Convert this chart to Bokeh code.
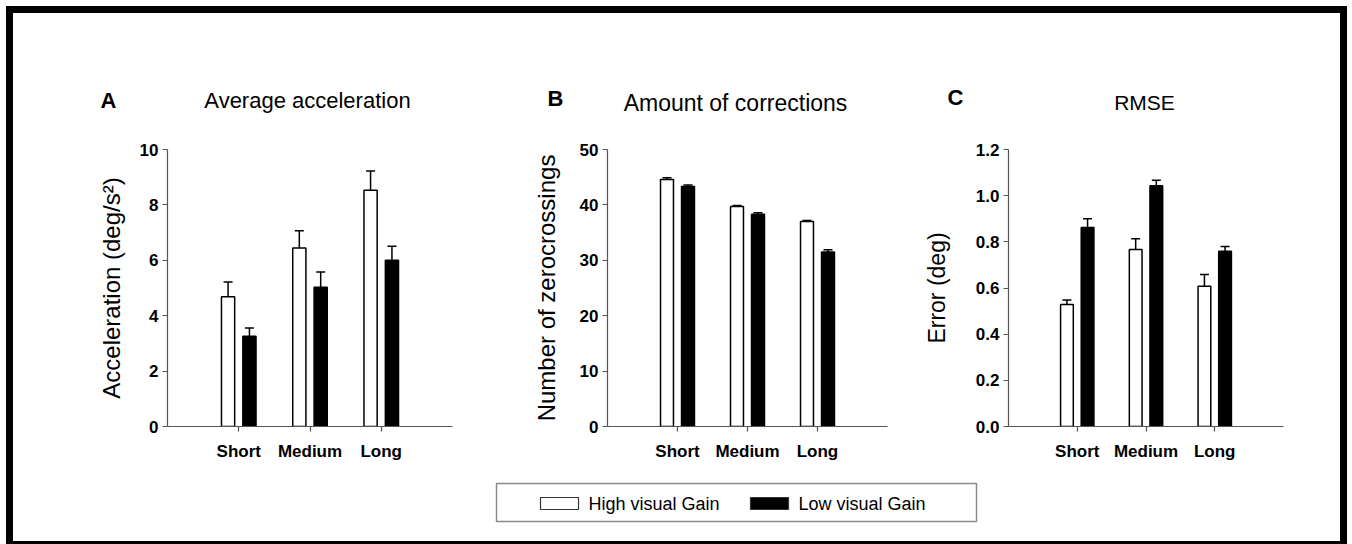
import numpy as np
from bokeh.plotting import figure
from bokeh.layouts import column, row
from bokeh.models import (Range1d, FixedTicker, Whisker, ColumnDataSource, TeeHead,
                          PrintfTickFormatter, Spacer)
from bokeh.embed import file_html
from bokeh.resources import INLINE
from bokeh.core.properties import value

# ---------------- data ----------------
categories = ["Short", "Medium", "Long"]
series_names = ["High visual Gain", "Low visual Gain"]
panel_letters = ["A", "B", "C"]
panel_titles = ["Average acceleration", "Amount of corrections", "RMSE"]
y_labels = ["Acceleration (deg/s²)", "Number of zerocrossings", "Error (deg)"]

acc_high = [4.68, 6.44, 8.53]
acc_high_err = [0.54, 0.63, 0.69]
acc_low = [3.26, 5.03, 6.00]
acc_low_err = [0.30, 0.55, 0.51]

zc_high = [44.6, 39.7, 37.0]
zc_high_err = [0.3, 0.2, 0.2]
zc_low = [43.3, 38.3, 31.5]
zc_low_err = [0.3, 0.3, 0.4]

rmse_high = [0.529, 0.767, 0.608]
rmse_high_err = [0.019, 0.046, 0.050]
rmse_low = [0.862, 1.043, 0.759]
rmse_low_err = [0.038, 0.024, 0.021]

acc_ticks = [0, 2, 4, 6, 8, 10]
zc_ticks = [0, 10, 20, 30, 40, 50]
rmse_ticks = [0.0, 0.2, 0.4, 0.6, 0.8, 1.0, 1.2]

# ---------------- style ----------------
FONT = "Liberation Sans"
AXIS_COL = "#555555"
INNER_W = 1327
HEAD_H = 120
ROW_H = 337
LEG_H = 71
BAR_W = 0.185
OFF = 0.15
FILLS = ["white", "black"]


def bare(width, height):
    f = figure(width=width, height=height, x_range=Range1d(0, width),
               y_range=Range1d(0, height), output_backend="svg", toolbar_location=None,
               min_border=0, x_axis_location=None, y_axis_location=None)
    f.grid.visible = False
    f.outline_line_color = None
    return f


def panel(ylabel, high, high_err, low, low_err, ticks, fmt,
          width, left, right, top, bottom, ylab_standoff, ylab_size):
    n = len(categories)
    p = figure(width=width, height=ROW_H, x_range=Range1d(0, n + 1),
               y_range=Range1d(ticks[0], ticks[-1]), output_backend="svg",
               toolbar_location=None, min_border_left=left, min_border_right=right,
               min_border_top=top, min_border_bottom=bottom)
    p.grid.visible = False
    p.outline_line_color = None

    x = np.arange(1, n + 1)
    for vals, errs, fill, off in ((high, high_err, FILLS[0], -OFF), (low, low_err, FILLS[1], OFF)):
        src = ColumnDataSource(dict(x=x + off, top=vals, lower=vals,
                                    upper=np.add(vals, errs)))
        p.add_layout(Whisker(source=src, base="x", lower="lower", upper="upper",
                             dimension="height", line_color="black", line_width=1.5,
                             upper_head=TeeHead(size=9, line_color="black", line_width=1.5),
                             lower_head=None))
        p.vbar(x="x", top="top", bottom=0, width=BAR_W, source=src,
               fill_color=fill, line_color="black", line_width=1.5)

    for ax in (p.xaxis[0], p.yaxis[0]):
        ax.axis_line_color = AXIS_COL
        ax.axis_line_width = 1.2
        ax.major_tick_line_color = AXIS_COL
        ax.major_tick_line_width = 1.2
        ax.minor_tick_line_color = None
        ax.major_tick_in = 0
        ax.major_tick_out = 5
        ax.major_label_text_font = FONT
        ax.major_label_text_font_style = "bold"
        ax.major_label_text_color = "black"
        ax.major_label_text_font_size = "17px"

    xa = p.xaxis[0]
    xa.ticker = FixedTicker(ticks=list(x))
    xa.major_label_overrides = {int(i): c for i, c in zip(x, categories)}
    xa.major_label_standoff = 10

    ya = p.yaxis[0]
    ya.ticker = FixedTicker(ticks=ticks)
    ya.formatter = PrintfTickFormatter(format=fmt)
    ya.major_label_standoff = 4
    ya.axis_label = ylabel
    ya.axis_label_text_font = FONT
    ya.axis_label_text_font_size = ylab_size
    ya.axis_label_text_font_style = "normal"
    ya.axis_label_text_color = "black"
    ya.axis_label_standoff = ylab_standoff
    return p


pA = panel(y_labels[0], acc_high, acc_high_err, acc_low, acc_low_err, acc_ticks, "%d",
           width=507, left=154, right=68, top=16, bottom=42, ylab_standoff=12, ylab_size="24px")
pB = panel(y_labels[1], zc_high, zc_high_err, zc_low, zc_low_err, zc_ticks, "%d",
           width=400, left=87, right=33, top=14, bottom=44, ylab_standoff=17, ylab_size="24px")
pC = panel(y_labels[2], rmse_high, rmse_high_err, rmse_low, rmse_low_err, rmse_ticks, "%.1f",
           width=420, left=85, right=57, top=14, bottom=44, ylab_standoff=23, ylab_size="23px")

# ---------------- header strip: panel letters and titles ----------------
head = bare(INNER_W, HEAD_H)
head.text(x=[87, 534, 934], y=[33, 35, 36], text=panel_letters, text_font=value(FONT),
          text_font_size="22px", text_font_style="bold", text_baseline="alphabetic",
          text_align="left", text_color="black")
for tx, ty, t, fs in zip([294, 722, 1131], [33, 31, 31], panel_titles, ["22px", "23px", "21px"]):
    head.text(x=[tx], y=[ty], text=[t], text_font=value(FONT), text_font_size=fs,
              text_baseline="alphabetic", text_align="center", text_color="black")

# ---------------- legend strip ----------------
leg = bare(INNER_W, LEG_H)
leg.quad(left=483, right=963, bottom=20, top=58, fill_color=None,
         line_color="#8a8a8a", line_width=1.5)
for i, (name, fill) in enumerate(zip(series_names, FILLS)):
    x0 = 527 + 210 * i
    leg.quad(left=x0, right=x0 + 38, bottom=32, top=44, fill_color=fill,
             line_color="#333333", line_width=1.2)
    leg.text(x=[x0 + 48], y=[38], text=[name], text_font=value(FONT),
             text_font_size="18px", text_baseline="middle", text_align="left",
             text_color="black")

# ---------------- black frame made of spacers ----------------
BLK = {"background-color": "black"}
WHT = {"background-color": "white"}
FH = 7 + HEAD_H + ROW_H + LEG_H + 3
inner = column(Spacer(width=INNER_W, height=7, styles=BLK, margin=0),
               head, row(pA, pB, pC, spacing=0), leg,
               Spacer(width=INNER_W, height=3, styles=BLK, margin=0), spacing=0)
framed = row(Spacer(width=6, height=FH, styles=WHT, margin=0),
             Spacer(width=7, height=FH, styles=BLK, margin=0), inner,
             Spacer(width=7, height=FH, styles=BLK, margin=0),
             Spacer(width=5, height=FH, styles=WHT, margin=0), spacing=0)
layout = column(Spacer(width=6 + 7 + INNER_W + 7 + 5, height=6, styles=WHT, margin=0),
                framed, spacing=0)

open("out.html", "w").write(file_html(layout, INLINE))
